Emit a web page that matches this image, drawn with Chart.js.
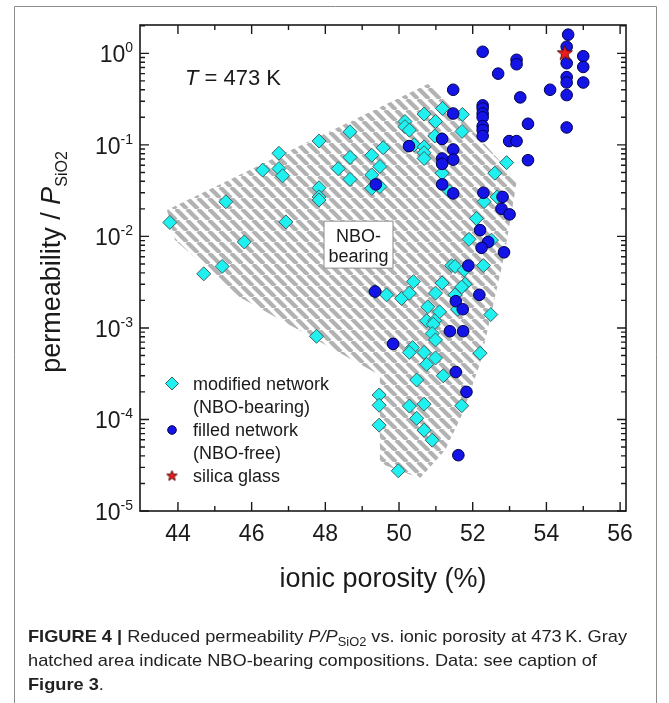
<!DOCTYPE html>
<html>
<head>
<meta charset="utf-8">
<script src="https://cdn.jsdelivr.net/npm/chart.js@4.4.1/dist/chart.umd.min.js"></script>
<style>
  html, body { margin: 0; padding: 0; background: #fff; }
</style>
</head>
<body>
<canvas id="myChart" width="669" height="703"></canvas>
<script>
// modified network (NBO-bearing)
const modX = [43.78, 45.3, 45.8, 45.2, 44.7, 46.3, 46.74, 46.74, 46.84, 46.93, 47.83, 47.83, 47.83, 47.83, 47.76,
  48.35, 48.67, 48.67, 48.67, 49.26, 49.26, 49.26, 49.48, 49.48, 49.57, 50.16, 50.16, 50.28, 50.41, 50.68,
  50.68, 50.68, 50.68, 50.99, 50.97, 51.18, 51.72, 51.71, 51.17, 51.38, 52.92, 52.6, 52.31, 52.66, 52.1,
  51.9, 52.51, 51.43, 51.52, 51.77, 52.29, 51.79, 51.70, 51.17, 51.52, 51.59, 52.49, 52.2, 51.70, 50.39,
  49.35, 49.66, 50.07, 50.28, 50.99, 50.78, 51.1, 50.75, 50.97, 50.93, 50.9, 50.99, 50.37, 50.28, 50.68,
  50.75, 50.99, 51.2, 50.48, 49.46, 49.46, 49.46, 50.28, 50.68, 50.48, 50.68, 50.9, 49.98];
const modY = [0.0142, 0.0239, 0.0087, 0.0047, 0.0039, 0.053, 0.081, 0.055, 0.046, 0.0144, 0.11, 0.034, 0.027, 0.025, 0.00081,
  0.055, 0.139, 0.073, 0.042, 0.077, 0.047, 0.0335, 0.035, 0.058, 0.093, 0.18, 0.158, 0.145, 0.10, 0.095,
  0.082, 0.071, 0.217, 0.18, 0.125, 0.25, 0.215, 0.14, 0.049, 0.031, 0.064, 0.049, 0.024, 0.027, 0.0157,
  0.0093, 0.0091, 0.0048, 0.0047, 0.0043, 0.0048, 0.0030, 0.0028, 0.0031, 0.0023, 0.0016, 0.0014, 0.00053, 0.000141, 0.0032,
  0.0025, 0.0023, 0.0021, 0.0024, 0.0024, 0.0017, 0.0015, 0.0012, 0.0012, 0.0011, 0.00087, 0.00074, 0.00061, 0.00054, 0.00054,
  0.0004, 0.00047, 0.0003, 0.00027, 0.000185, 0.000143, 0.0000867, 0.00014, 0.000147, 0.000103, 0.0000764, 0.0000594, 0.0000275];

// filled network (NBO-free)
const fillX = [52.27, 54.59, 54.55, 54.55, 55.0, 55.0, 55.0, 54.55, 54.55, 54.55, 54.55, 54.1, 53.19, 53.19, 52.69,
  53.29, 53.5, 52.99, 53.19, 53.5, 51.47, 51.47, 52.27, 52.27, 52.27, 52.27, 52.27, 52.27, 52.27, 51.17,
  50.27, 51.47, 51.47, 51.17, 51.17, 49.37, 51.17, 51.47, 52.29, 52.81, 52.78, 53.0, 52.2, 52.42, 52.24,
  52.85, 51.88, 52.18, 51.54, 51.73, 51.38, 51.74, 51.54, 51.83, 51.61, 49.84, 49.35];
const fillY = [1.04, 1.6, 1.18, 0.78, 0.93, 0.71, 0.48, 0.55, 0.48, 0.35, 0.155, 0.40, 0.85, 0.76, 0.60,
  0.33, 0.17, 0.11, 0.11, 0.068, 0.40, 0.22, 0.27, 0.25, 0.22, 0.20, 0.16, 0.145, 0.125, 0.116,
  0.097, 0.089, 0.069, 0.071, 0.062, 0.037, 0.037, 0.0295, 0.030, 0.027, 0.020, 0.0174, 0.0117, 0.0087, 0.0075,
  0.0067, 0.0048, 0.0023, 0.00196, 0.0016, 0.00092, 0.00092, 0.00033, 0.0002, 0.0000407, 0.00067, 0.0025];

// silica glass
const silicaX = [54.5];
const silicaY = [1.0];

// NBO-bearing hatched region (outline)
const hatchX = [43.70, 50.84, 53.20, 52.87, 52.20, 51.73, 51.25, 50.57, 49.48, 49.48, 48.12, 45.68, 43.92];
const hatchY = [0.0194, 0.473, 0.0412, 0.00656, 0.000412, 0.000117, 0.0000461, 0.0000228, 0.0000333, 0.000305, 0.000617, 0.00217, 0.00912];

const xTicks = [44, 46, 48, 50, 52, 54, 56];
const xMinor = [45, 47, 49, 51, 53, 55];
const yExps = [0, -1, -2, -3, -4, -5];

const pts = (xs, ys) => xs.map((x, i) => ({ x: x, y: ys[i] }));
const FF = '"Liberation Sans", Arial, sans-serif';
const f = (size, style) => (style || '') + ' ' + size + 'px ' + FF;

// red star marker
function starCanvas(r) {
  const c = document.createElement('canvas');
  const s = Math.ceil(r * 2 + 4);
  c.width = s; c.height = s;
  const g = c.getContext('2d');
  g.beginPath();
  for (let i = 0; i < 10; i++) {
    const rr = i % 2 ? r * 0.42 : r;
    const a = -Math.PI / 2 + i * Math.PI / 5;
    g.lineTo(s / 2 + rr * Math.cos(a), s / 2 + rr * Math.sin(a));
  }
  g.closePath();
  g.fillStyle = '#ee1c1c';
  g.fill();
  g.strokeStyle = '#5a0a0a';
  g.lineWidth = 1;
  g.stroke();
  return c;
}

// hatch pattern
const HP = 11;
const pc = document.createElement('canvas');
pc.width = HP; pc.height = HP;
const pg = pc.getContext('2d');
pg.strokeStyle = '#b2b2b2';
pg.lineWidth = 4.2;
[-HP, 0, HP].forEach(k => { pg.beginPath(); pg.moveTo(k, 0); pg.lineTo(k + HP, HP); pg.stroke(); });

function runsWidth(ctx, runs) {
  let w = 0;
  runs.forEach(r => { ctx.font = r.font; w += ctx.measureText(r.text).width; });
  return w;
}
function drawRuns(ctx, runs, x, y, align) {
  const w = runsWidth(ctx, runs);
  let cx = align === 'center' ? x - w / 2 : align === 'right' ? x - w : x;
  runs.forEach(r => {
    ctx.font = r.font;
    ctx.fillText(r.text, cx, y + (r.dy || 0));
    cx += ctx.measureText(r.text).width;
  });
}

const hatchPlugin = {
  id: 'hatch',
  beforeDatasetsDraw(chart) {
    const ctx = chart.ctx, xs = chart.scales.x, ys = chart.scales.y, a = chart.chartArea;
    ctx.save();
    ctx.beginPath();
    ctx.rect(a.left, a.top, a.right - a.left, a.bottom - a.top);
    ctx.clip();
    ctx.beginPath();
    hatchX.forEach((x, i) => {
      const px = xs.getPixelForValue(x), py = ys.getPixelForValue(hatchY[i]);
      if (i === 0) ctx.moveTo(px, py); else ctx.lineTo(px, py);
    });
    ctx.closePath();
    ctx.fillStyle = ctx.createPattern(pc, 'repeat');
    ctx.fill();
    ctx.restore();
  }
};

const decoPlugin = {
  id: 'deco',
  afterDraw(chart) {
    const ctx = chart.ctx, xs = chart.scales.x, ys = chart.scales.y, a = chart.chartArea;
    ctx.save();
    ctx.fillStyle = '#1a1a1a';
    ctx.textBaseline = 'alphabetic';

    // outer figure border
    ctx.strokeStyle = '#8c8c8c';
    ctx.lineWidth = 1;
    ctx.beginPath();
    ctx.moveTo(14.5, 703); ctx.lineTo(14.5, 6.5); ctx.lineTo(656.5, 6.5); ctx.lineTo(656.5, 703);
    ctx.stroke();

    // NBO-bearing label box
    const bx = xs.getPixelForValue(48.9), by = ys.getPixelForValue(0.00813);
    ctx.fillStyle = '#fff';
    ctx.fillRect(bx - 34.5, by - 23.5, 69, 47);
    ctx.strokeStyle = '#8a8a8a';
    ctx.strokeRect(bx - 34.5, by - 23.5, 69, 47);
    ctx.fillStyle = '#1a1a1a';
    ctx.font = f(18);
    ctx.textAlign = 'center';
    ctx.fillText('NBO-', bx, by - 3);
    ctx.fillText('bearing', bx, by + 17);
    ctx.textAlign = 'left';

    // frame and inward ticks
    ctx.strokeStyle = '#1a1a1a';
    ctx.lineWidth = 1.6;
    ctx.strokeRect(a.left, a.top, a.right - a.left, a.bottom - a.top);
    ctx.lineWidth = 1.4;
    ctx.beginPath();
    const xt = (v, len) => {
      const px = xs.getPixelForValue(v);
      ctx.moveTo(px, a.bottom); ctx.lineTo(px, a.bottom - len);
      ctx.moveTo(px, a.top); ctx.lineTo(px, a.top + len);
    };
    xTicks.forEach(v => xt(v, 9));
    xMinor.forEach(v => xt(v, 5));
    const yt = (v, len) => {
      const py = ys.getPixelForValue(v);
      ctx.moveTo(a.left, py); ctx.lineTo(a.left + len, py);
      ctx.moveTo(a.right, py); ctx.lineTo(a.right - len, py);
    };
    yExps.forEach(e => {
      yt(Math.pow(10, e), 9);
      for (let m = 2; m <= 9; m++) {
        const v = m * Math.pow(10, e);
        if (v < ys.max) yt(v, 5);
      }
    });
    ctx.stroke();

    // tick labels
    ctx.fillStyle = '#1a1a1a';
    xTicks.forEach(v => {
      drawRuns(ctx, [{ text: String(v), font: f(23) }], xs.getPixelForValue(v), a.bottom + 30, 'center');
    });
    yExps.forEach(e => {
      const py = ys.getPixelForValue(Math.pow(10, e));
      drawRuns(ctx, [
        { text: '10', font: f(23) },
        { text: e === 0 ? '0' : '-' + (-e), font: f(14), dy: -10 }
      ], a.left - 7, py + 9, 'right');
    });

    // axis titles
    drawRuns(ctx, [{ text: 'ionic porosity (%)', font: f(27) }], 383, 587, 'center');
    ctx.save();
    ctx.translate(60, 262);
    ctx.rotate(-Math.PI / 2);
    drawRuns(ctx, [
      { text: 'permeability / ', font: f(27) },
      { text: 'P', font: f(27, 'italic') },
      { text: 'SiO2', font: f(16), dy: 7 }
    ], 0, 0, 'center');
    ctx.restore();

    // temperature note
    drawRuns(ctx, [
      { text: 'T', font: f(22, 'italic') },
      { text: ' = 473 K', font: f(22) }
    ], 185, 85, 'left');

    // legend
    const lx = 172;
    ctx.fillStyle = '#1ff0f0';
    ctx.strokeStyle = '#3d6262';
    ctx.lineWidth = 1;
    ctx.beginPath();
    ctx.moveTo(lx, 377); ctx.lineTo(lx + 6.5, 383.5); ctx.lineTo(lx, 390); ctx.lineTo(lx - 6.5, 383.5);
    ctx.closePath(); ctx.fill(); ctx.stroke();
    ctx.fillStyle = '#1414e6';
    ctx.strokeStyle = '#00004a';
    ctx.beginPath(); ctx.arc(lx, 430, 4.3, 0, Math.PI * 2); ctx.fill(); ctx.stroke();
    const st = starCanvas(5.5);
    ctx.drawImage(st, lx - st.width / 2, 476 - st.height / 2);
    ctx.fillStyle = '#1a1a1a';
    ctx.font = f(18);
    ctx.fillText('modified network', 193, 390);
    ctx.fillText('(NBO-bearing)', 193, 413);
    ctx.fillText('filled network', 193, 436);
    ctx.fillText('(NBO-free)', 193, 459);
    ctx.fillText('silica glass', 193, 482);

    // caption
    const cf = (s) => (s || '') + ' 17px "Liberation Sans Narrow", "Liberation Sans", Arial, sans-serif';
    const line1 = [
      { text: 'FIGURE 4 | ', font: cf('bold') },
      { text: 'Reduced permeability ', font: cf() },
      { text: 'P/P', font: cf('italic') },
      { text: 'SiO2', font: '12px "Liberation Sans Narrow", "Liberation Sans", Arial, sans-serif', dy: 4 },
      { text: ' vs. ionic porosity at 473\u2009K. Gray', font: cf() }
    ];
    const line2 = [{ text: 'hatched area indicate NBO-bearing compositions. Data: see caption of', font: cf() }];
    const line3 = [{ text: 'Figure 3', font: cf('bold') }, { text: '.', font: cf() }];
    const sx = 599 / runsWidth(ctx, line1);
    ctx.fillStyle = '#222';
    [[line1, 642], [line2, 666], [line3, 690]].forEach(([runs, y]) => {
      ctx.save();
      ctx.translate(28, y);
      ctx.scale(sx, 1);
      drawRuns(ctx, runs, 0, 0, 'left');
      ctx.restore();
    });

    ctx.restore();
  }
};

new Chart('myChart', {
  type: 'scatter',
  data: {
    datasets: [
      {
        label: 'silica glass',
        data: pts(silicaX, silicaY),
        pointStyle: starCanvas(8),
        order: 0
      },
      {
        label: 'filled network (NBO-free)',
        data: pts(fillX, fillY),
        pointStyle: 'circle',
        pointRadius: 5.8,
        backgroundColor: '#1414e6',
        borderColor: '#00004a',
        borderWidth: 1,
        order: 1
      },
      {
        label: 'modified network (NBO-bearing)',
        data: pts(modX, modY),
        pointStyle: 'rectRot',
        pointRadius: 7,
        backgroundColor: '#1ff0f0',
        borderColor: '#3d6262',
        borderWidth: 1,
        order: 2
      }
    ]
  },
  options: {
    responsive: false,
    animation: false,
    devicePixelRatio: 1,
    layout: { padding: { left: 140, top: 25, right: 43, bottom: 192 } },
    plugins: {
      legend: { display: false },
      tooltip: { enabled: false }
    },
    scales: {
      x: {
        type: 'linear', min: 42.97, max: 56.16,
        grid: { display: false }, border: { display: false }, ticks: { display: false },
        afterFit: s => { s.height = 0; }
      },
      y: {
        type: 'logarithmic', min: 1e-5, max: 2.04,
        grid: { display: false }, border: { display: false }, ticks: { display: false },
        afterFit: s => { s.width = 0; }
      }
    }
  },
  plugins: [hatchPlugin, decoPlugin]
});
</script>
</body>
</html>
